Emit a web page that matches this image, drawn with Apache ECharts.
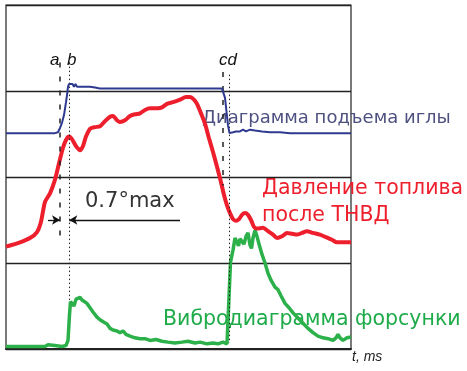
<!DOCTYPE html>
<html>
<head>
<meta charset="utf-8">
<script src="https://cdn.jsdelivr.net/npm/echarts@6/dist/echarts.min.js"></script>
<style>
  html, body { margin: 0; padding: 0; background: #fff; }
  #chart { width: 467px; height: 371px; }
</style>
</head>
<body>
<div id="chart"></div>
<script>
// время (усл. ед.) и значения по полосам: 0-1 вибродиаграмма, 1-2..3 давление, 2.5-3 игла
var needleT = [0, 49, 52, 54, 56, 58, 60, 61, 62, 63, 65, 66.5, 68, 69.5, 71, 73, 75, 77, 80, 84, 89, 94, 104, 216, 217.5, 219, 220.5, 222, 223.5, 227, 230, 234, 237, 240, 244, 249, 256, 264, 274, 284, 345];
var needleV = [2.51, 2.51, 2.52, 2.57, 2.63, 2.72, 2.87, 2.95, 3.05, 3.08, 3.06, 3.08, 3.05, 3.08, 3.05, 3.07, 3.05, 3.06, 3.05, 3.05, 3.04, 3.03, 3.03, 3.03, 3.01, 2.92, 2.76, 2.6, 2.51, 2.52, 2.53, 2.53, 2.55, 2.53, 2.55, 2.54, 2.53, 2.52, 2.52, 2.51, 2.51];

var pressT = [0, 14, 24, 31, 35, 39, 44, 49, 53, 57, 60, 63, 66, 70, 74, 77, 80, 84, 89, 94, 99, 104, 107, 111, 114, 119, 124, 129, 134, 139, 144, 152, 156, 161, 167, 174, 180, 184, 188, 191, 195, 199, 203, 207, 211, 215, 218, 221, 224, 227, 230, 233, 236, 239, 242, 245, 248, 251, 257, 262, 267, 271, 276, 281, 286, 291, 296, 301, 307, 314, 320, 326, 331, 345];
var pressV = [1.19, 1.24, 1.29, 1.36, 1.48, 1.71, 1.81, 1.97, 2.16, 2.34, 2.43, 2.47, 2.44, 2.36, 2.31, 2.36, 2.47, 2.56, 2.58, 2.59, 2.65, 2.70, 2.71, 2.66, 2.64, 2.66, 2.71, 2.73, 2.74, 2.78, 2.80, 2.80, 2.81, 2.85, 2.87, 2.90, 2.93, 2.93, 2.90, 2.85, 2.74, 2.62, 2.45, 2.29, 2.12, 1.94, 1.79, 1.67, 1.58, 1.51, 1.49, 1.51, 1.56, 1.58, 1.56, 1.50, 1.42, 1.40, 1.41, 1.37, 1.33, 1.29, 1.31, 1.35, 1.34, 1.33, 1.35, 1.37, 1.35, 1.33, 1.30, 1.27, 1.24, 1.24];

var vibroT = [0, 39, 42, 49, 56, 60, 62, 63.5, 64.5, 66, 68, 70, 72, 74, 76, 78, 81, 84, 87, 91, 94, 98, 101, 104, 107, 111, 114, 117, 120, 124, 129, 134, 139, 144, 150, 156, 162, 169, 176, 182, 189, 194, 201, 207, 212, 217, 221, 223, 224.5, 227, 229, 231, 232.5, 234, 236, 238, 240, 242, 244, 245.5, 247, 249, 251, 253, 256, 259, 262, 265, 269, 272, 275, 279, 283, 287, 292, 297, 302, 307, 312, 317, 322, 327, 330, 332, 334, 337, 341, 345];
var vibroV = [0.03, 0.03, 0.05, 0.04, 0.03, 0.04, 0.10, 0.40, 0.55, 0.53, 0.50, 0.58, 0.60, 0.60, 0.57, 0.58, 0.53, 0.48, 0.43, 0.37, 0.34, 0.31, 0.29, 0.24, 0.22, 0.21, 0.19, 0.21, 0.17, 0.15, 0.13, 0.12, 0.12, 0.10, 0.11, 0.09, 0.08, 0.07, 0.08, 0.09, 0.07, 0.08, 0.06, 0.07, 0.06, 0.08, 0.06, 0.07, 1.01, 1.15, 1.29, 1.24, 1.20, 1.28, 1.27, 1.22, 1.31, 1.35, 1.21, 1.17, 1.29, 1.38, 1.31, 1.22, 1.10, 1.00, 0.88, 0.80, 0.72, 0.69, 0.62, 0.53, 0.48, 0.42, 0.36, 0.30, 0.24, 0.19, 0.15, 0.13, 0.12, 0.10, 0.13, 0.17, 0.13, 0.10, 0.13, 0.14];

// моменты a, b, c, d и пределы отметок по вертикали
var markT = { a: 54, b: 63.3, c: 216.7, d: 223 };
var markTop = { a: 3.33, b: 3.33, c: 3.22, d: 3.19 };
var markBottom = { a: 1.24, b: 0.57, c: 1.9, d: 0.07 };
var spanLevel = 1.5;   // уровень стрелки 0.7°max
var spanLeft = 42, spanRight = 174;

function pairs(t, v) {
    var out = [];
    for (var i = 0; i < t.length; i++) out.push([t[i], v[i]]);
    return out;
}

function vline(k, dash, w) {
    return [{ coord: [markT[k], markTop[k]], lineStyle: { type: dash, width: w, color: '#222' } },
            { coord: [markT[k], markBottom[k]] }];
}

var chart = echarts.init(document.getElementById('chart'));

var option = {
    animation: false,
    grid: { left: 6, top: 5, width: 345, height: 344, show: true, borderColor: '#222', borderWidth: 1.2 },
    xAxis: {
        type: 'value', min: 0, max: 345,
        axisLine: { show: true, lineStyle: { color: '#222', width: 2 } },
        axisTick: { show: false }, axisLabel: { show: false }, splitLine: { show: false }
    },
    yAxis: {
        type: 'value', min: 0, max: 4, interval: 1,
        axisLine: { show: false }, axisTick: { show: false }, axisLabel: { show: false },
        splitLine: { show: true, lineStyle: { color: '#222', width: 1.3 } }
    },
    series: [
        {
            name: 'Вибродиаграмма форсунки', type: 'line', data: pairs(vibroT, vibroV),
            showSymbol: false, lineStyle: { color: '#2bb04a', width: 3.5 }, z: 3
        },
        {
            name: 'Давление топлива', type: 'line', data: pairs(pressT, pressV),
            showSymbol: false, smooth: 0.25, lineStyle: { color: '#ee1f2d', width: 4 }, z: 4
        },
        {
            name: 'Подъем иглы', type: 'line', data: pairs(needleT, needleV),
            showSymbol: false, lineStyle: { color: '#2e3a90', width: 2 }, z: 5,
            markLine: {
                silent: true, symbol: 'none', label: { show: false },
                data: [
                    vline('a', [5, 9], 1.5),
                    vline('b', [1.5, 2.5], 1),
                    vline('c', [5, 9], 1.5),
                    vline('d', [1.5, 2.5], 1),
                    [{ coord: [spanLeft, spanLevel], symbol: 'none', lineStyle: { type: 'solid', width: 1.3, color: '#111' } },
                     { coord: [markT.a, spanLevel], symbol: 'arrow', symbolSize: [7, 8] }],
                    [{ coord: [spanRight, spanLevel], symbol: 'none', lineStyle: { type: 'solid', width: 1.3, color: '#111' } },
                     { coord: [markT.b, spanLevel], symbol: 'arrow', symbolSize: [7, 8] }]
                ]
            }
        }
    ],
    graphic: [
        { type: 'text', left: 50, top: 52, style: { text: 'a', font: 'italic 17px "Liberation Sans"', fill: '#111' } },
        { type: 'text', left: 67, top: 52, style: { text: 'b', font: 'italic 17px "Liberation Sans"', fill: '#111' } },
        { type: 'text', left: 219, top: 52, style: { text: 'cd', font: 'italic 17px "Liberation Sans"', fill: '#111' } },
        { type: 'text', left: 85, top: 191, style: { text: '0.7°max', font: '21px "DejaVu Sans"', fill: '#333' } },
        { type: 'text', left: 202, top: 109, style: { text: 'Диаграмма подъема иглы', font: '18px "DejaVu Sans"', fill: '#4e5180' } },
        { type: 'text', left: 262, top: 178, style: { text: 'Давление топлива', font: '20.5px "DejaVu Sans"', fill: '#ee1f2d' } },
        { type: 'text', left: 262, top: 205, style: { text: 'после ТНВД', font: '20.5px "DejaVu Sans"', fill: '#ee1f2d' } },
        { type: 'text', left: 163, top: 309, style: { text: 'Вибродиаграмма форсунки', font: '20.5px "DejaVu Sans"', fill: '#1fab4a' } },
        { type: 'text', left: 352, top: 350, style: { text: 't, ms', font: 'italic 14px "Liberation Sans"', fill: '#222' } }
    ]
};

chart.setOption(option);
</script>
</body>
</html>
